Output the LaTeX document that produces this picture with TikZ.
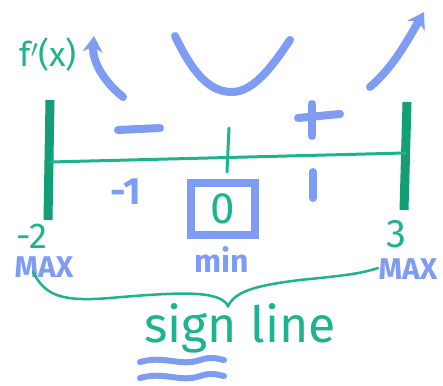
\documentclass[tikz,border=0pt]{standalone}
\usepackage{fontspec}
\setmainfont{Fira Sans}
\usetikzlibrary{arrows.meta}
\definecolor{tealc}{HTML}{1DB38F}
\definecolor{tealdark}{HTML}{139E78}
\definecolor{bluec}{HTML}{7F9CF5}
\begin{document}
\begin{tikzpicture}[x=1pt,y=-1pt,
  bluestroke/.style={draw=bluec,line width=8pt,line cap=round},
  bluearrow/.style={bluestroke,-{Stealth[length=16pt,width=20pt]}},
  tealbar/.style={draw=tealdark,line width=9pt},
  tealthin/.style={draw=tealc,line width=3pt,line cap=round},
  tealtext/.style={text=tealc,inner sep=0pt},
  bluetext/.style={text=bluec,inner sep=0pt,font=\bfseries}]
\useasboundingbox[fill=white] (0,0) rectangle (443,385);
% labels
\node[tealtext,font=\fontsize{34}{38}\selectfont] (fx) at (48,55) {f$'$(x)};
% arrows and curve
\coordinate (la0) at (123,97); \coordinate (la1) at (94,36);
\draw[bluearrow] (la0) .. controls (102,80) and (92,60) .. (la1);
\coordinate (u0) at (175,36); \coordinate (um) at (232,92); \coordinate (u1) at (290,40);
\draw[bluestroke] (u0) .. controls (195,78) and (212,92) .. (um) .. controls (255,92) and (275,62) .. (u1);
\coordinate (ra0) at (370,87); \coordinate (ra1) at (424,12);
\draw[bluearrow] (ra0) .. controls (392,68) and (405,45) .. (ra1);
% bars and line
\coordinate (lb0) at (50,100); \coordinate (lb1) at (48,220);
\coordinate (rb0) at (407,102); \coordinate (rb1) at (404,210);
\draw[tealbar] (lb0) -- (lb1);
\draw[tealbar] (rb0) -- (rb1);
\coordinate (h0) at (50,162); \coordinate (h1) at (405,153);
\draw[tealthin] (h0) -- (h1);
\coordinate (t0) at (229,128); \coordinate (t1) at (227,172);
\draw[tealthin] (t0) -- (t1);
% signs
\coordinate (m0) at (118,130); \coordinate (m1) at (160,128);
\draw[bluestroke] (m0) -- (m1);
\coordinate (p0) at (312,104); \coordinate (p1) at (312,136);
\coordinate (p2) at (298,118); \coordinate (p3) at (340,114);
\draw[bluestroke] (p0) -- (p1);
\draw[bluestroke] (p2) -- (p3);
% numbers
\node[bluetext,font=\bfseries\fontsize{38}{42}\selectfont] (n1) at (126,192) {-1};
\coordinate (o0) at (313,172); \coordinate (o1) at (313,198);
\draw[bluestroke] (o0) -- (o1);
\node[draw=bluec,line width=8pt,minimum width=64pt,minimum height=52pt,inner sep=0pt] (box) at (223,209) {};
\node[tealtext,font=\fontsize{44}{48}\selectfont] (zero) at (box) {0};
\node[bluetext,font=\bfseries\fontsize{32}{36}\selectfont] (min) at (222,260) {min};
\node[tealtext,font=\fontsize{36}{40}\selectfont] (m2) at (32,236) {-2};
\node[tealtext,font=\fontsize{40}{44}\selectfont] (three) at (396,234) {3};
\node[bluetext,font=\bfseries\fontsize{30}{34}\selectfont] (maxl) at (44,267) {MAX};
\node[bluetext,font=\bfseries\fontsize{30}{34}\selectfont] (maxr) at (408,269) {MAX};
% brace
\coordinate (bl) at (33,272);
\coordinate (bt) at (228,306);
\draw[tealthin,line width=2.5pt] (bl) .. controls (45,295) and (60,302) .. (110,298) .. controls (180,292) and (220,290) .. (bt)
  .. controls (236,290) and (260,285) .. (300,280) .. controls (340,276) and (360,274) .. (378,268);
% sign line
\node[tealtext,font=\fontsize{50}{54}\selectfont] (sl) at (240,328) {sign line};
\coordinate (w0) at (140,362); \coordinate (w1) at (224,360);
\draw[bluestroke,line width=6pt] (w0) .. controls (165,355) and (180,367) .. (200,360) .. controls (212,356) and (218,359) .. (w1);
\coordinate (w2) at (140,378); \coordinate (w3) at (224,376);
\draw[bluestroke,line width=6pt] (w2) .. controls (165,371) and (180,383) .. (200,376) .. controls (212,372) and (218,375) .. (w3);
\end{tikzpicture}
\end{document}
